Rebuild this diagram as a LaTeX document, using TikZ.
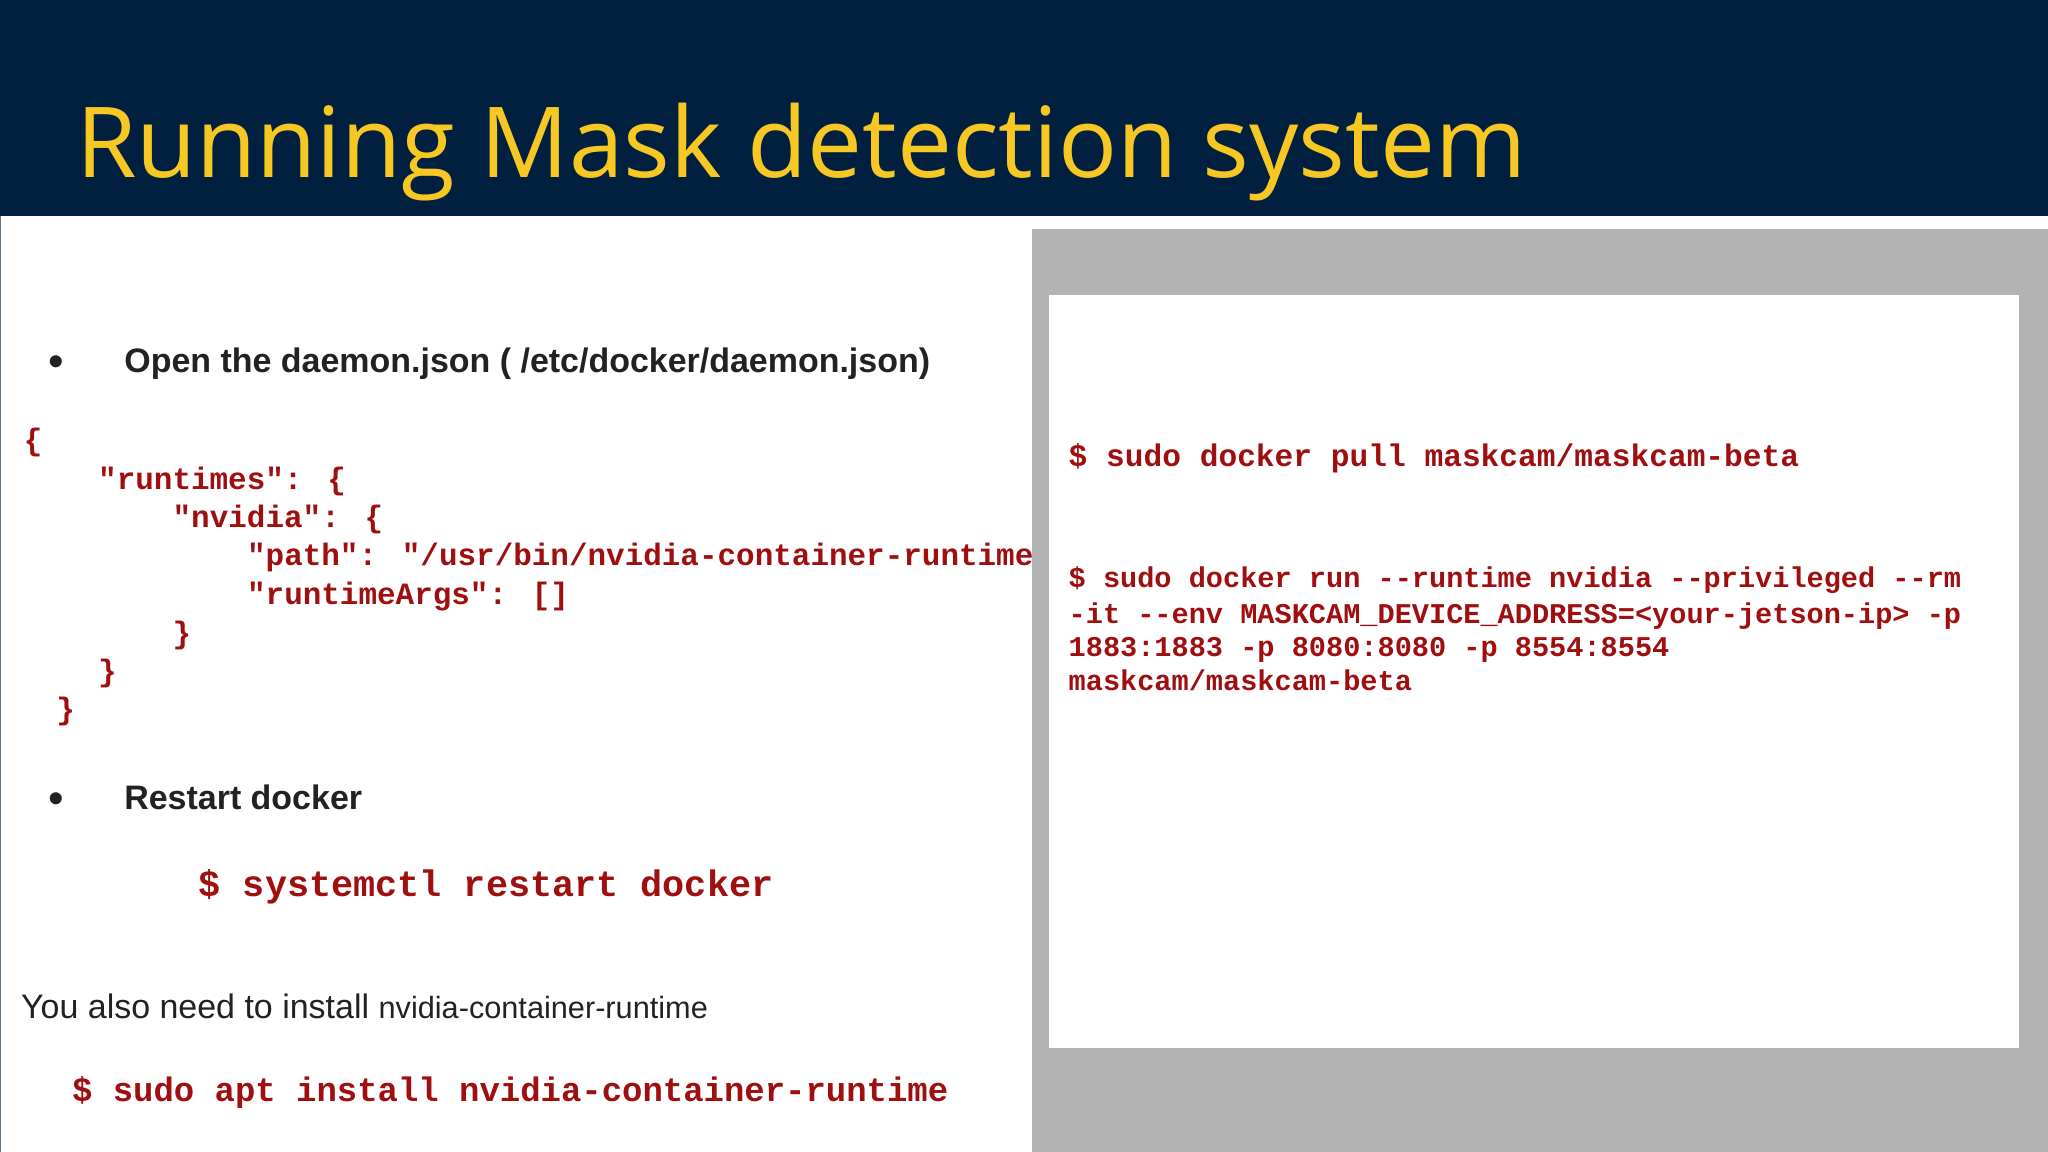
\documentclass[tikz,border=0pt]{standalone}
\usepackage{fontspec}
\setmainfont{Liberation Sans}
\newfontfamily\titlefont{Open Sans}
\newfontfamily\codefont{Liberation Mono}
\definecolor{navy}{HTML}{012040}
\definecolor{titley}{HTML}{F7C824}
\definecolor{codered}{HTML}{A00F0F}
\definecolor{panelgray}{HTML}{B3B3B3}
\definecolor{bodytxt}{HTML}{222222}
\tikzset{
  txt/.style={anchor=base west,inner sep=0pt,text=bodytxt},
  code/.style={anchor=base west,inner sep=0pt,text=codered,font=\codefont\bfseries\fontsize{#1}{#1}\selectfont},
  bul/.style={anchor=base west,inner sep=0pt,text=bodytxt,font=\bfseries\fontsize{26}{26}\selectfont},
  dot/.style={anchor=base west,inner sep=0pt,text=bodytxt,font=\fontsize{34}{34}\selectfont},
}
\begin{document}
\begin{tikzpicture}[x=1pt,y=-1pt]
\useasboundingbox (0,0) rectangle (1568,882);
\fill[white] (0,0) rectangle (1568,882);
\fill[navy] (0,0) rectangle (1568,165);
\node[anchor=base west,inner sep=0pt,text=titley,font=\titlefont\fontsize{75}{75}\selectfont] (title) at (58,136) {Running Mask detection system};
\draw[navy!60,line width=1pt] (0.5,165) -- (0.5,882);
% right panel
\fill[panelgray] (790,175) rectangle (1568,882);
\fill[white] (803,226) rectangle (1546,802);
% left bullets
\node[dot] (b1) at (37,288) {•};
\node[bul] (t1) at (95,285) {Open the daemon.json ( /etc/docker/daemon.json)};
\node[code=23.7] (c1) at (18,345) {\{};
\node[code=23.7] (c2) at (75,375) {"runtimes": \{};
\node[code=23.7] (c3) at (132,404) {"nvidia": \{};
\node[code=23.7] (c4) at (189,433) {"path": "/usr/bin/nvidia-container-runtime};
\node[code=23.7] (c5) at (189,463) {"runtimeArgs": []};
\node[code=23.7] (c6) at (132,493) {\}};
\node[code=23.7] (c7) at (75,522) {\}};
\node[code=23.7] (c8) at (43,551) {\}};
\node[dot] (b2) at (37,623) {•};
\node[bul] (t2) at (95,620) {Restart docker};
\node[code=28.2] (c9) at (152,686) {\$ systemctl restart docker};
\node[txt,font=\fontsize{26}{26}\selectfont] (t3) at (16,780) {You also need to install {\fontsize{23.5}{23.5}\selectfont nvidia-container-runtime}};
\node[code=26] (c10) at (55,843) {\$ sudo apt install nvidia-container-runtime};
% right code
\node[code=23.9] (r1) at (818,357) {\$ sudo docker pull maskcam/maskcam-beta};
\node[code=21.9] (r2) at (818,450) {\$ sudo docker run --runtime nvidia --privileged --rm};
\node[code=21.9] (r3) at (818,477) {-it --env MASKCAM\_DEVICE\_ADDRESS=<your-jetson-ip> -p};
\node[code=21.9] (r4) at (818,503) {1883:1883 -p 8080:8080 -p 8554:8554};
\node[code=21.9] (r5) at (818,529) {maskcam/maskcam-beta};
\end{tikzpicture}
\end{document}
